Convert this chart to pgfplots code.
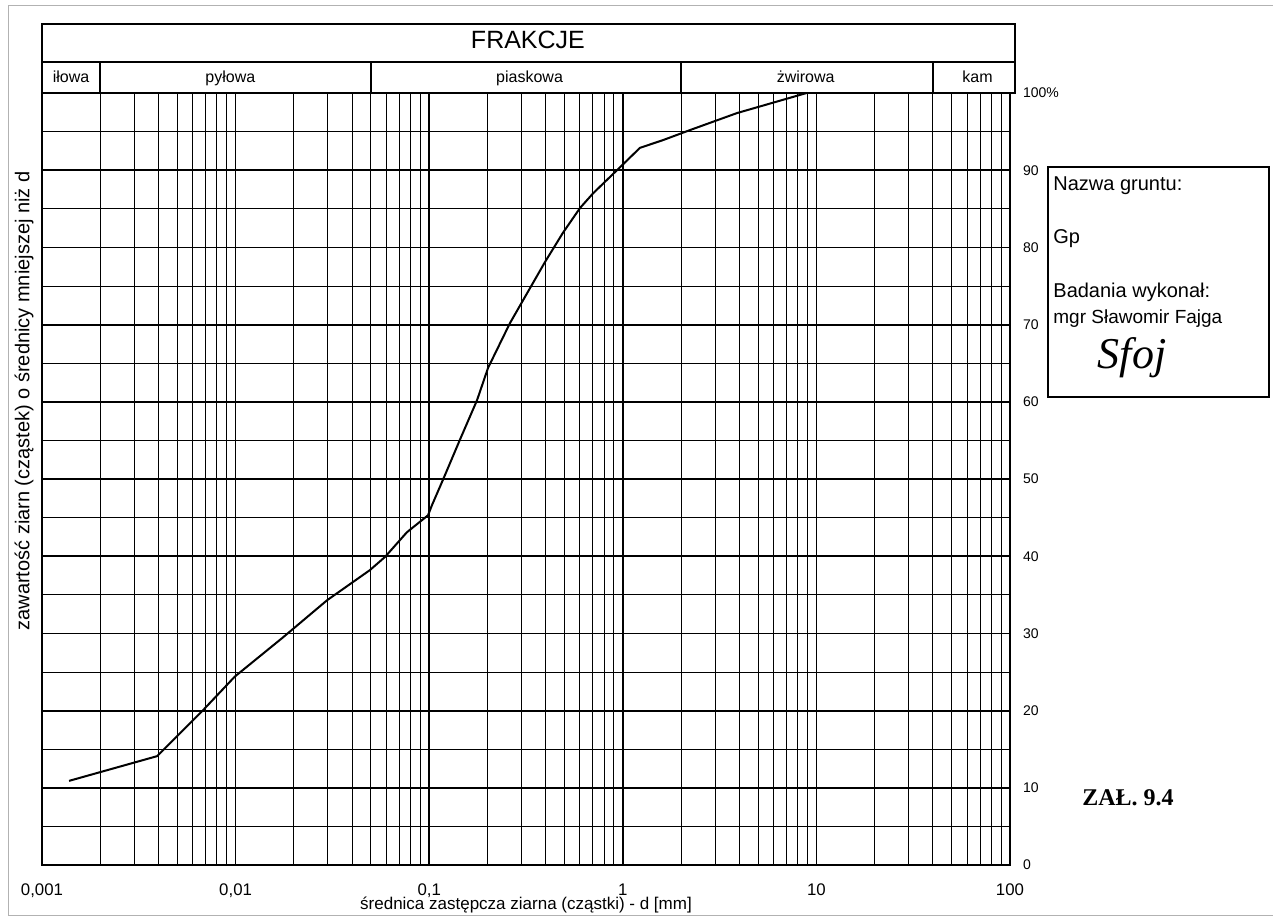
\documentclass[border=0pt]{standalone}
\usepackage{fontspec}
\setmainfont{Liberation Sans}
\newfontfamily\timesfont{Liberation Serif}
\usepackage{pgfplots}
\pgfplotsset{compat=1.18}
\begin{document}
\begin{tikzpicture}
\path[use as bounding box] (0pt,0pt) rectangle (636.5pt,-461pt);
\begin{scope}[x=0.5pt,y=-0.5pt]
  \draw[gray!60, line width=0.5pt] (1273,5) -- (8,5) -- (8,915) -- (1273,915);
  \node[rotate=90, font=\fontsize{10}{12}\selectfont] at (24,401) {zawartość ziarn (cząstek) o średnicy mniejszej niż d};
  \node[font=\fontsize{8.5}{10}\selectfont] at (526,905) {średnica zastępcza ziarna (cząstki) - d [mm]};
  \draw[line width=0.6pt] (1048,167) rectangle (1269,397);
  \node[anchor=base west, inner sep=0pt, font=\fontsize{10}{12}\selectfont] at (1053,190) {Nazwa gruntu:};
  \node[anchor=base west, inner sep=0pt, font=\fontsize{10}{12}\selectfont] at (1053,243) {Gp};
  \node[anchor=base west, inner sep=0pt, font=\fontsize{10}{12}\selectfont] at (1053,297) {Badania wykonał:};
  \node[anchor=base west, inner sep=0pt, font=\fontsize{9.5}{12}\selectfont] at (1053,323) {mgr Sławomir Fajga};
  \node[font=\timesfont\itshape\fontsize{22}{22}\selectfont] at (1132,358) {Sfoj};
  \node[font=\timesfont\bfseries\fontsize{12}{14}\selectfont] at (1128,798) {ZAŁ. 9.4};
\end{scope}
\begin{axis}[
  at={(21pt,-432.5pt)}, anchor=south west,
  scale only axis, width=484pt, height=386pt,
  xmode=log, xmin=0.001, xmax=100, ymin=0, ymax=100,
  clip=false,
  axis line style={line width=1pt},
  xtick={0.001,0.01,0.1,1,10,100},
  xticklabels={{0,001},{0,01},{0,1},{1},{10},{100}},
  minor xtick={0.002,0.003,0.004,0.005,0.006,0.007,0.008,0.009,
               0.02,0.03,0.04,0.05,0.06,0.07,0.08,0.09,
               0.2,0.3,0.4,0.5,0.6,0.7,0.8,0.9,
               2,3,4,5,6,7,8,9,
               20,30,40,50,60,70,80,90},
  ytick={0,10,20,30,40,50,60,70,80,90,100},
  yticklabels={0,10,20,30,40,50,60,70,80,90,100\%},
  minor ytick={5,15,25,35,45,55,65,75,85,95},
  grid=both,
  major grid style={black, line width=0.9pt},
  minor grid style={black, line width=0.5pt},
  major tick length=0pt, minor tick length=0pt,
  yticklabel pos=right,
  yticklabel style={font=\fontsize{7}{8}\selectfont, anchor=west, xshift=3pt},
  xticklabel style={font=\fontsize{8.4}{9}\selectfont, yshift=-6pt},
]
\draw[line width=1pt] (axis cs:0.001,100) rectangle (axis cs:106,108.9);
\draw[line width=0.8pt] (axis cs:0.001,104) -- (axis cs:106,104);
\draw[line width=0.8pt] (axis cs:0.002,100) -- (axis cs:0.002,104);
\draw[line width=0.8pt] (axis cs:0.05,100) -- (axis cs:0.05,104);
\draw[line width=0.8pt] (axis cs:2,100) -- (axis cs:2,104);
\draw[line width=0.8pt] (axis cs:40,100) -- (axis cs:40,104);
\node[anchor=base, font=\fontsize{12.5}{14}\selectfont] at (axis cs:0.3236,105.8) {FRAKCJE};
\node[anchor=base, font=\fontsize{8}{9}\selectfont] at (axis cs:0.001414,101.3) {iłowa};
\node[anchor=base, font=\fontsize{8}{9}\selectfont] at (axis cs:0.0094,101.3) {pyłowa};
\node[anchor=base, font=\fontsize{8}{9}\selectfont] at (axis cs:0.33,101.3) {piaskowa};
\node[anchor=base, font=\fontsize{8}{9}\selectfont] at (axis cs:8.8,101.3) {żwirowa};
\node[anchor=base, font=\fontsize{8}{9}\selectfont] at (axis cs:68,101.3) {kam};
\addplot[black, line width=1pt] coordinates {
(0.00138,10.9) (0.00393,14.1) (0.0067,19.9) (0.0099,24.4) (0.0176,29.5)
(0.0297,34.3) (0.0494,38.2) (0.0591,39.9) (0.0767,43.1) (0.0986,45.3)
(0.1033,46.6) (0.1178,49.9) (0.1442,55.1) (0.1766,60.2) (0.2014,64.4)
(0.2614,70.2) (0.3963,78.1) (0.4909,81.9) (0.601,85.1) (0.702,87.0)
(0.933,90.0) (1.227,92.9) (1.614,93.9) (2.225,95.2) (3.89,97.4) (8.9,100)
};
\end{axis}
\end{tikzpicture}
\end{document}
